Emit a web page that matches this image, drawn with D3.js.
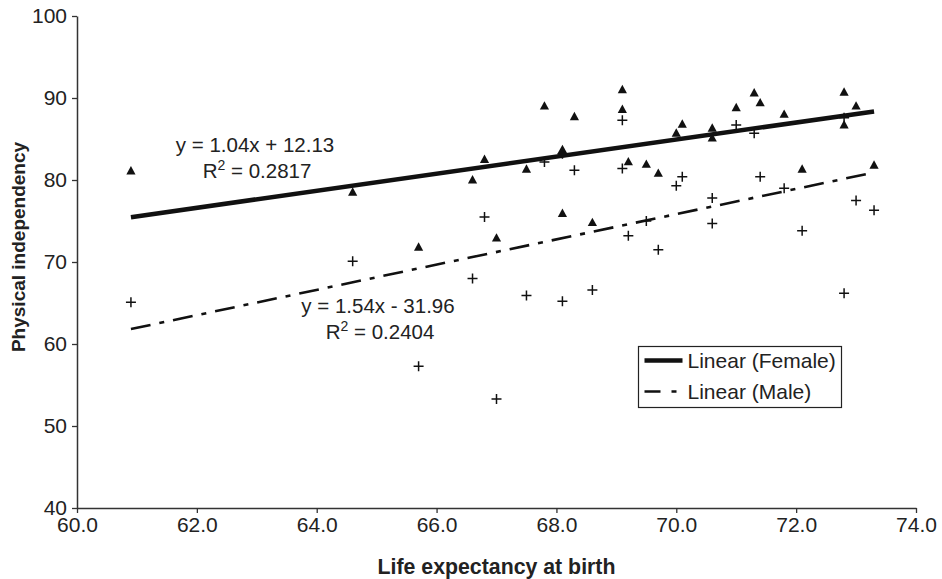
<!DOCTYPE html>
<html lang="en">

<head>
    <meta charset="UTF-8">
    <title>Physical independency vs life expectancy</title>
    <script src="https://d3js.org/d3.v7.min.js"></script>
    <style>
        body { margin: 0; background: #fff; }
        text { font-family: "Liberation Sans", Arial, sans-serif; fill: #222; }
    </style>
</head>

<body>
    <svg id="chart" width="942" height="579"></svg>

    <script>
        // Life expectancy at birth (one value per country)
        const lifeExpectancy = [60.9, 64.6, 65.7, 66.6, 66.8, 67.0, 67.5, 67.8, 68.1, 68.1,
            68.3, 68.6, 69.1, 69.1, 69.2, 69.5, 69.7, 70.0, 70.1, 70.6,
            70.6, 71.0, 71.3, 71.4, 71.8, 72.1, 72.8, 72.8, 73.0, 73.3];
        // Physical independency, female (triangles)
        const femaleValues = [81.1, 78.5, 71.8, 80.0, 82.5, 72.9, 81.3, 89.0, 83.7, 75.9,
            87.7, 74.8, 91.0, 88.6, 82.2, 81.9, 80.8, 85.7, 86.8, 86.3,
            85.1, 88.8, 90.6, 89.4, 88.0, 81.3, 90.7, 86.7, 89.0, 81.8];
        // Physical independency, male (crosses)
        const maleValues = [65.1, 70.1, 57.3, 68.0, 75.5, 53.3, 65.9, 82.2, 83.2, 65.2,
            81.2, 66.6, 87.3, 81.4, 73.2, 75.0, 71.5, 79.3, 80.4, 77.8,
            74.7, 86.7, 85.7, 80.4, 79.0, 73.8, 87.6, 66.2, 77.5, 76.3];

        // trend lines: [female, male]
        const trendNames = ["Linear (Female)", "Linear (Male)"];
        const trendSlope = [1.04, 1.54];
        const trendIntercept = [12.13, -31.96];
        const trendEquation = ["y = 1.04x + 12.13", "y = 1.54x - 31.96"];
        const trendR2 = ["0.2817", "0.2404"];

        const xTicks = [60, 62, 64, 66, 68, 70, 72, 74];
        const yTicks = [40, 50, 60, 70, 80, 90, 100];

        const margin = { top: 16, left: 77 };
        const width = 839, height = 492;

        const svg = d3.select("#chart");
        const g = svg.append("g").attr("transform", `translate(${margin.left},${margin.top})`);

        const xScale = d3.scaleLinear().domain([60, 74]).range([0, width]);
        const yScale = d3.scaleLinear().domain([40, 100]).range([height, 0]);

        // axes
        const xAxis = g.append("g")
            .attr("transform", `translate(0,${height})`)
            .call(d3.axisBottom(xScale).tickValues(xTicks).tickFormat(d3.format(".1f"))
                .tickSizeInner(5).tickSizeOuter(0).tickPadding(4));
        const yAxis = g.append("g")
            .call(d3.axisLeft(yScale).tickValues(yTicks)
                .tickSizeInner(5).tickSizeOuter(0).tickPadding(5));
        [xAxis, yAxis].forEach(a => {
            a.select(".domain").attr("stroke", "#333").attr("stroke-width", 1.5);
            a.selectAll(".tick line").attr("stroke", "#333").attr("stroke-width", 1.3);
            a.selectAll(".tick text").style("font-size", "21px").attr("fill", "#222");
        });

        // axis titles
        svg.append("text")
            .attr("x", margin.left + width / 2)
            .attr("y", 574)
            .attr("text-anchor", "middle")
            .style("font-size", "21.3px")
            .style("font-weight", "bold")
            .text("Life expectancy at birth");

        svg.append("text")
            .attr("transform", `translate(25,${margin.top + 231}) rotate(-90)`)
            .attr("text-anchor", "middle")
            .style("font-size", "19px")
            .style("font-weight", "bold")
            .text("Physical independency");

        // trend lines
        const xMin = d3.min(lifeExpectancy), xMax = d3.max(lifeExpectancy);
        const line = d3.line().x(d => xScale(d[0])).y(d => yScale(d[1]));
        const lineStyles = [
            { width: 4.5, dash: null },
            { width: 2.6, dash: "20,9,5,9" }
        ];
        trendSlope.forEach((m, i) => {
            const pts = [xMin, xMax].map(x => [x, m * x + trendIntercept[i]]);
            g.append("path")
                .datum(pts)
                .attr("fill", "none")
                .attr("stroke", "#111")
                .attr("stroke-width", lineStyles[i].width)
                .attr("stroke-dasharray", lineStyles[i].dash)
                .attr("d", line);
        });

        // male points (crosses)
        const male = lifeExpectancy.map((x, i) => ({ x: x, y: maleValues[i] }));
        g.selectAll(".male")
            .data(male)
            .enter().append("path")
            .attr("class", "male")
            .attr("transform", d => `translate(${xScale(d.x)},${yScale(d.y)})`)
            .attr("d", "M-5,0H5M0,-5V5")
            .attr("stroke", "#111")
            .attr("stroke-width", 1.5);

        // female points (triangles)
        const female = lifeExpectancy.map((x, i) => ({ x: x, y: femaleValues[i] }));
        g.selectAll(".female")
            .data(female)
            .enter().append("path")
            .attr("class", "female")
            .attr("transform", d => `translate(${xScale(d.x)},${yScale(d.y)})`)
            .attr("d", "M0,-5L4.6,3.4L-4.6,3.4Z")
            .attr("fill", "#111");

        // equation labels
        const eqPos = [[255, 152, 178], [378, 313, 339]];
        trendEquation.forEach((eq, i) => {
            const t = svg.append("g").style("font-size", "20.5px");
            t.append("text")
                .attr("x", eqPos[i][0]).attr("y", eqPos[i][1])
                .attr("text-anchor", "middle")
                .text(eq);
            const r = t.append("text")
                .attr("x", eqPos[i][0] + 2).attr("y", eqPos[i][2])
                .attr("text-anchor", "middle");
            r.append("tspan").text("R");
            r.append("tspan").attr("dy", -8).style("font-size", "14px").text("2");
            r.append("tspan").attr("dy", 8).text(" = " + trendR2[i]);
        });

        // legend
        const legend = svg.append("g").attr("transform", "translate(638.5,346.5)");
        legend.append("rect")
            .attr("width", 203).attr("height", 61)
            .attr("fill", "#fff").attr("stroke", "#222").attr("stroke-width", 1.2);
        trendNames.forEach((name, i) => {
            const ly = 14 + i * 31;
            legend.append("line")
                .attr("x1", 6).attr("x2", 44).attr("y1", ly).attr("y2", ly)
                .attr("stroke", "#111")
                .attr("stroke-width", i === 0 ? 4.5 : 2.6)
                .attr("stroke-dasharray", i === 0 ? null : "16,11,5,20");
            legend.append("text")
                .attr("x", 49).attr("y", ly + 7.5)
                .style("font-size", "21px")
                .text(name);
        });
    </script>
</body>

</html>
